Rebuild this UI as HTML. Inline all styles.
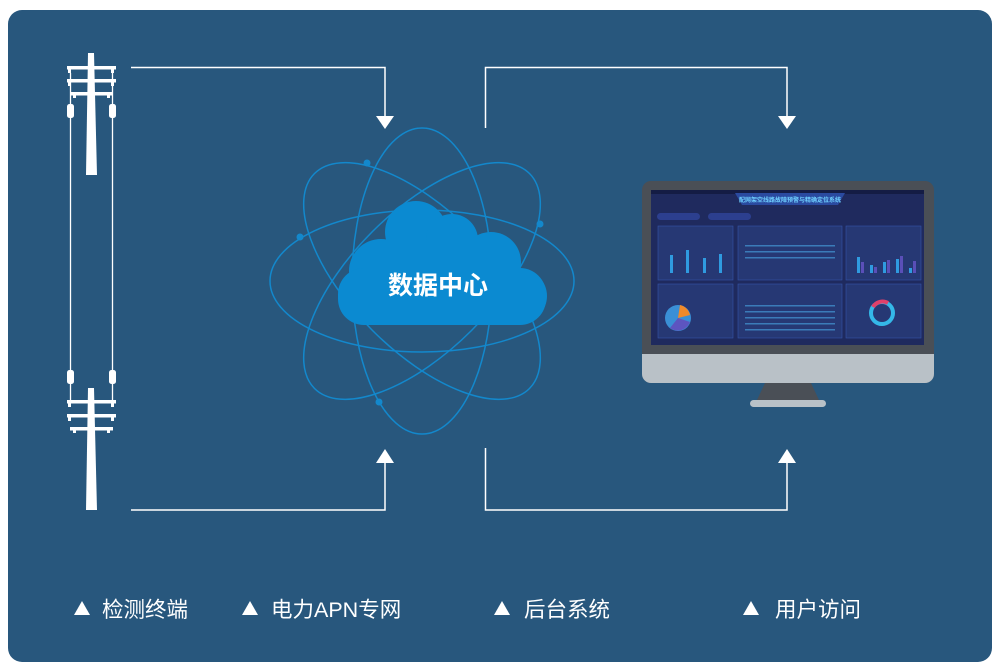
<!DOCTYPE html>
<html><head><meta charset="utf-8"><style>
html,body{margin:0;padding:0;background:#fff;}
svg{display:block}
text{font-family:"Liberation Sans","Noto Sans CJK SC",sans-serif;}
</style></head><body>
<svg width="1000" height="672" viewBox="0 0 1000 672" xmlns="http://www.w3.org/2000/svg">
<rect x="8" y="10" width="984" height="652" rx="14" fill="#28577d"/>
<!-- poles -->
<g fill="#fff">
  <polygon points="88,53 94,53 97,175 86,175"/>
  <rect x="67" y="66" width="49" height="3.5"/>
  <rect x="67" y="79" width="49" height="3.5"/>
  <rect x="70" y="92" width="43" height="3.5"/>
  <rect x="68" y="69" width="3" height="4"/><rect x="111" y="69" width="3" height="4"/>
  <rect x="68" y="82" width="3" height="4"/><rect x="111" y="82" width="3" height="4"/>
  <rect x="73" y="95" width="3" height="3"/><rect x="107" y="95" width="3" height="3"/>
  <rect x="67" y="104" width="7" height="14" rx="2.5"/><rect x="109" y="104" width="7" height="14" rx="2.5"/>
  <rect x="67" y="370" width="7" height="14" rx="2.5"/><rect x="109" y="370" width="7" height="14" rx="2.5"/>
  <polygon points="88,388 94,388 97,510 86,510"/>
  <rect x="67" y="400" width="49" height="3.5"/>
  <rect x="67" y="414" width="49" height="3.5"/>
  <rect x="70" y="427" width="43" height="3.5"/>
  <rect x="68" y="403" width="3" height="4"/><rect x="111" y="403" width="3" height="4"/>
  <rect x="68" y="417" width="3" height="4"/><rect x="111" y="417" width="3" height="4"/>
  <rect x="73" y="430" width="3" height="3"/><rect x="107" y="430" width="3" height="3"/>
</g>
<g stroke="#fff" stroke-width="1.3" fill="none">
  <line x1="70.5" y1="73" x2="70.5" y2="400"/><line x1="112.5" y1="73" x2="112.5" y2="400"/>
</g>
<!-- connectors -->
<g stroke="#fff" stroke-width="1.5" fill="none">
  <polyline points="131,67.5 385,67.5 385,118"/>
  <polyline points="485.5,128 485.5,67.5 787,67.5 787,118"/>
  <polyline points="131,510 385,510 385,460"/>
  <polyline points="485.5,448 485.5,510 787,510 787,460"/>
</g>
<g fill="#fff">
  <polygon points="376,116 394,116 385,129"/>
  <polygon points="778,116 796,116 787,129"/>
  <polygon points="376,463 394,463 385,449"/>
  <polygon points="778,463 796,463 787,449"/>
</g>
<!-- orbits -->
<g stroke="#1388cc" stroke-width="1.5" fill="none">
  <ellipse cx="422" cy="281" rx="152" ry="71"/>
  <ellipse cx="422" cy="281" rx="70" ry="153"/>
  <ellipse cx="422" cy="281" rx="152" ry="70" transform="rotate(45 422 281)"/>
  <ellipse cx="422" cy="281" rx="152" ry="70" transform="rotate(-45 422 281)"/>
</g>
<g fill="#1388cc">
  <circle cx="367" cy="163" r="3.5"/><circle cx="300" cy="237" r="3.5"/>
  <circle cx="540" cy="224" r="3.5"/><circle cx="379" cy="402" r="3.5"/>
</g>
<!-- cloud -->
<g fill="#0b8ad1">
  <circle cx="416" cy="232" r="31"/>
  <circle cx="452" cy="240" r="26"/>
  <circle cx="491" cy="262" r="30"/>
  <circle cx="381" cy="271" r="32"/>
  <circle cx="520" cy="296" r="27"/>
  <rect x="338" y="268" width="208" height="57" rx="26"/>
  <rect x="380" y="240" width="120" height="60"/>
</g>
<text x="438" y="294" font-size="25" font-weight="bold" fill="#fff" text-anchor="middle">数据中心</text>
<!-- monitor -->
<rect x="642" y="181" width="292" height="202" rx="9" fill="#4a4f56"/>
<path d="M642,354 H934 V374 a9,9 0 0 1 -9,9 H651 a9,9 0 0 1 -9,-9 Z" fill="#b9c1c7"/>
<polygon points="765,383 811,383 819,400 757,400" fill="#4a4f56"/>
<rect x="750" y="400" width="76" height="7" rx="3.5" fill="#b9c1c7"/>
<rect x="651" y="190" width="273" height="155" fill="#1f2a5e"/>
<rect x="651" y="190" width="273" height="4" fill="#141c44"/>
<polygon points="735,193 845,193 838,205 742,205" fill="#2a4aa0"/>
<text x="790" y="202" font-size="6" fill="#6fd0ff" text-anchor="middle" font-weight="bold">配网架空线路故障预警与精确定位系统</text>
<rect x="657" y="213" width="43" height="7" rx="3.5" fill="#2c3f8f"/>
<rect x="708" y="213" width="43" height="7" rx="3.5" fill="#2c3f8f"/>
<g fill="#263874" stroke="#3455a8" stroke-width="0.6">
  <rect x="658" y="226" width="75" height="54"/><rect x="738" y="226" width="104" height="54"/><rect x="846" y="226" width="75" height="54"/>
  <rect x="658" y="284" width="75" height="54"/><rect x="738" y="284" width="104" height="54"/><rect x="846" y="284" width="75" height="54"/>
</g>
<g fill="#2f9be0">
  <rect x="670" y="255" width="3" height="18"/><rect x="686" y="250" width="3" height="23"/><rect x="703" y="258" width="3" height="15"/><rect x="719" y="254" width="3" height="19"/>
  <rect x="857" y="257" width="3" height="16"/><rect x="870" y="265" width="3" height="8"/><rect x="883" y="262" width="3" height="11"/><rect x="896" y="259" width="3" height="14"/><rect x="909" y="268" width="3" height="5"/>
</g>
<g fill="#5a4fb8">
  <rect x="861" y="262" width="3" height="11"/><rect x="874" y="267" width="3" height="6"/><rect x="887" y="260" width="3" height="13"/><rect x="900" y="256" width="3" height="17"/><rect x="913" y="261" width="3" height="12"/>
</g>
<circle cx="678" cy="318" r="13" fill="#3a8fd6"/>
<path d="M678,318 L690,322 A13,13 0 0 1 670,328 Z" fill="#5d55c0"/>
<path d="M678,318 L680,305 A13,13 0 0 1 690,315 Z" fill="#f08a2a"/>
<circle cx="882" cy="313" r="11" fill="none" stroke="#34b8e8" stroke-width="4"/>
<path d="M873,307 A11,11 0 0 1 888,303" stroke="#e0406a" stroke-width="4" fill="none"/>
<g fill="#4aa8e8">
  <rect x="745" y="245" width="90" height="1.5" opacity="0.6"/><rect x="745" y="251" width="90" height="1.5" opacity="0.6"/><rect x="745" y="257" width="90" height="1.5" opacity="0.6"/>
  <rect x="745" y="305" width="90" height="1.5" opacity="0.6"/><rect x="745" y="311" width="90" height="1.5" opacity="0.6"/><rect x="745" y="317" width="90" height="1.5" opacity="0.6"/><rect x="745" y="323" width="90" height="1.5" opacity="0.6"/><rect x="745" y="329" width="90" height="1.5" opacity="0.6"/>
</g>
<!-- legend -->
<g fill="#fff">
  <polygon points="74,615 90,615 82,601"/>
  <polygon points="242,615 258,615 250,601"/>
  <polygon points="494,615 510,615 502,601"/>
  <polygon points="743,615 759,615 751,601"/>
</g>
<g font-size="21.5" fill="#fff">
  <text x="102" y="617">检测终端</text>
  <text x="271" y="617">电力APN专网</text>
  <text x="524" y="617">后台系统</text>
  <text x="775" y="617">用户访问</text>
</g>
</svg>
</body></html>
